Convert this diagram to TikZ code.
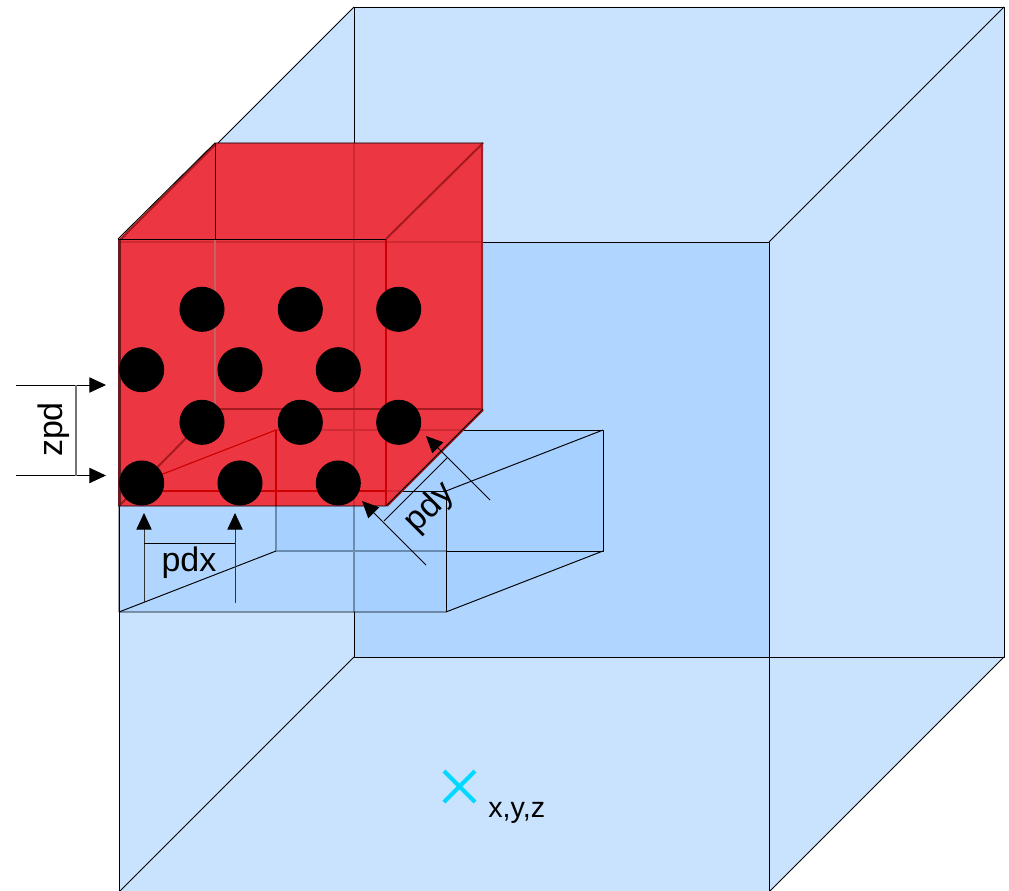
\documentclass[tikz,border=0pt]{standalone}
\usepackage{fontspec}
\setmainfont{Liberation Sans}
\usetikzlibrary{arrows.meta}
\definecolor{cubeL}{HTML}{C9E3FF}
\definecolor{cubeM}{HTML}{B0D6FF}
\definecolor{cubeD}{HTML}{A5D0FF}
\definecolor{redF}{HTML}{EC3642}
\definecolor{redL}{HTML}{CC0000}
\definecolor{redD}{HTML}{A51A1F}
\definecolor{redG}{HTML}{CF2A34}
\definecolor{redP}{HTML}{C4626A}
\definecolor{crossC}{HTML}{00D8FF}
\definecolor{hidL}{HTML}{6A8CB0}
\tikzset{
  edge/.style={black,line width=0.72pt,line join=round},
  hidden/.style={hidL,line width=0.9pt},
  redline/.style={redL,line width=0.85pt},
  faint/.style={redG,line width=1.1pt},
  dimarrow/.style={black!80,line width=0.75pt,-{Triangle[length=12.5pt,width=11.5pt,color=black,fill=black]}},
  dot/.style={circle,fill=black,minimum size=33.8pt,inner sep=0pt},
  lab/.style={font=\fontsize{25.5}{30}\selectfont,inner sep=0pt},
  smalllab/.style={font=\fontsize{21.5}{25}\selectfont,inner sep=0pt},
}
\begin{document}
\begin{tikzpicture}[x=0.75pt,y=-0.75pt]
\useasboundingbox (0,0) rectangle (1009,891);
\clip (0,0) rectangle (1009,891);
% large cube
\fill[cubeL] (354,7) -- (1004,7) -- (1004,657) -- (769,892) -- (119,892) -- (119,242) -- cycle;
\fill[cubeM] (354,242) rectangle (769,657);
% slab
\fill[cubeM] (119,491) rectangle (354,612);
\fill[cubeD] (276,430) rectangle (354,551);
\fill[cubeD] (354,491) -- (354,430) -- (603,430) -- (603,551) -- (446,612) -- (354,612) -- cycle;
% large cube edges
\draw[edge] (354,7) rectangle (1004,657);
\draw[edge] (119,242) rectangle (769,892);
\draw[edge] (119,242) -- (354,7) (769,242) -- (1004,7) (769,892) -- (1004,657) (119,892) -- (354,657);
% slab edges
\draw[hidden] (354,491) -- (354,612);
\draw[hidden] (276,491) -- (276,551) -- (446,551);
\draw[edge] (446,551) -- (603,551) -- (603,430) -- (276,430);
\draw[edge] (446,612) -- (446,491) -- (276,491);
\draw[edge] (119,491) -- (119,612) -- (446,612) -- (603,551);
\draw[edge] (119,612) -- (276,551);
\draw[edge] (446,491) -- (603,430);
% red cube
\fill[redF] (215,143) -- (483,143) -- (483,409) -- (386,506) -- (119,506) -- (119,239) -- cycle;
\begin{scope}
  \clip (215,143) -- (483,143) -- (483,409) -- (386,506) -- (119,506) -- (119,239) -- cycle;
  \draw[faint] (354,143) -- (354,506);
  \draw[faint] (119,242) -- (483,242);
  \draw[faint] (386,491) -- (446,491);
  \draw[faint] (276,430) -- (483,430);
  \draw[redline] (119,491) -- (386,491);
  \draw[redline] (276,506) -- (276,430);
  \draw[redline] (119,491) -- (276,430);
\end{scope}
\draw[redD,line width=1.5pt] (119,506) -- (215,409);
\draw[redD,line width=1pt] (215,409) -- (483,409);
\draw[redP,line width=1.3pt] (215,239) -- (215,409);
\draw[redD,line width=1.5pt] (386,239) -- (483,143);
\draw[redL,line width=1.5pt] (386,239) -- (386,506);
\draw[black!55!redF,line width=2pt] (119.5,239) -- (119.5,506);
\draw[black!35!redF,line width=1.3pt] (482,143) -- (482,409);
\draw[redD,line width=1.5pt] (120,240) -- (216,144);
\draw[redD,line width=1.5pt] (387,506) -- (483,410);
\draw[edge] (215,143) -- (215,239);
\draw[edge] (118,239) -- (386,239);
\draw[edge] (118,239) -- (215,143) -- (483,143);
\draw[edge] (118,506) -- (386,506) -- (483,409);
% dots
\foreach \n/\x/\y in {a/202/309.3,b/300.3/309.3,c/398.7/309.3,d/141.7/369.7,e/240/369.7,f/338.3/369.7,g/202/422.3,h/300.3/422.3,i/398.7/422.3,j/141.7/483,k/240/483,l/338.3/483}
  \node[dot] (dot\n) at (\x,\y) {};
% zpd
\coordinate (zs1) at (16,385); \coordinate (ze1) at (106,385);
\coordinate (zs2) at (16,475.5); \coordinate (ze2) at (106,475.5);
\coordinate (zm1) at (76,385); \coordinate (zm2) at (76,475.5);
\draw[dimarrow,black] (zs1) -- (ze1);
\draw[dimarrow,black] (zs2) -- (ze2);
\draw[black!55,line width=0.8pt] (zm1) -- (zm2);
\node[lab,rotate=90] (zpd) at (54,429.5) {zpd};
% pdx
\coordinate (xs1) at (144,603); \coordinate (xe1) at (144,513);
\coordinate (xs2) at (235,603); \coordinate (xe2) at (235,513);
\coordinate (xm1) at (144,543.5); \coordinate (xm2) at (235,543.5);
\draw[dimarrow] (xs1) -- (xe1);
\draw[dimarrow] (xs2) -- (xe2);
\draw[edge] (xm1) -- (xm2);
\node[lab] (pdx) at (189,563) {pdx};
% pdy
\coordinate (ys1) at (426,565); \coordinate (ye1) at (362,501);
\coordinate (ys2) at (490,500); \coordinate (ye2) at (426,436);
\coordinate (ym1) at (384,521); \coordinate (ym2) at (447,458);
\draw[dimarrow,black] (ys1) -- (ye1);
\draw[dimarrow,black] (ys2) -- (ye2);
\draw[edge] (ym1) -- (ym2);
\node[lab,rotate=45] (pdy) at (430,508) {pdy};
% cross
\coordinate (c1) at (444,771); \coordinate (c2) at (475,802);
\coordinate (c3) at (475,771); \coordinate (c4) at (444,802);
\draw[crossC,line width=3pt] (c1) -- (c2) (c3) -- (c4);
\node[smalllab,anchor=base west] (xyz) at (488,817) {x,y,z};
\end{tikzpicture}
\end{document}
